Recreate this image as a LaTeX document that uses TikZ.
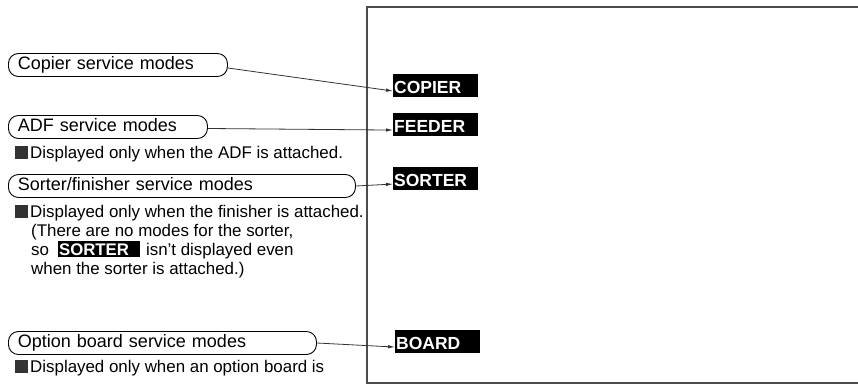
\documentclass[tikz,border=0pt]{standalone}
\usepackage{fontspec}
\setmainfont{Liberation Sans}
\usepackage{tikz}
\usetikzlibrary{arrows.meta}
\usepackage{xcolor}
\newcommand{\notemark}{\textcolor{black!80}{\rule[-0.5pt]{12.5pt}{12.5pt}}\hspace{2.5pt}}
\newcommand{\inlinekey}[1]{{\setlength{\fboxsep}{0pt}\colorbox{black}{\makebox[82pt][l]{\rule[-2pt]{0pt}{16pt}\hspace{1pt}\textcolor{white}{\fontsize{16.8}{19}\selectfont\bfseries #1}}}}}
\tikzset{
  modepill/.style = {draw=black, line width=0.9pt, rounded corners=10pt, anchor=west,
    font=\fontsize{18}{21}\selectfont, align=left, inner xsep=9.5pt, inner ysep=3.5pt,
    text height=12.5pt, text depth=3.5pt},
  modekey/.style = {fill=black, text=white, font=\fontsize{17.5}{20}\selectfont\bfseries,
    anchor=north west, align=left, text width=83pt, inner xsep=1pt, inner ysep=0pt,
    text height=19.5pt, text depth=3.5pt},
  notetext/.style = {anchor=base west, inner sep=0pt, font=\fontsize{16.9}{19}\selectfont},
  screen/.style = {draw=black!70, line width=1.4pt},
  modearrow/.style = {draw=black!80, line width=0.8pt, -{Latex[length=7pt,width=3.5pt]}}
}
\begin{document}
\begin{tikzpicture}[x=1pt, y=-1pt]
\useasboundingbox (0,0) rectangle (858,385);

% screen frame (open to the right)
\draw[screen] (858,7) -| (367,383) -- (858,383);

% mode keys on the screen
\node[modekey] (copierkey) at (393,74)  {COPIER};
\node[modekey] (feederkey) at (393,113) {FEEDER};
\node[modekey] (sorterkey) at (393,167) {SORTER};
\node[modekey] (boardkey)  at (395,330) {BOARD};

% service mode groups
\node[modepill, text width=200pt] (copiermodes) at (8,65)    {Copier service modes};
\node[modepill, text width=180pt] (adfmodes)    at (8,127)   {ADF service modes};
\node[modepill, text width=328pt] (sortermodes) at (8,186)   {Sorter/finisher service modes};
\node[modepill, text width=289pt] (boardmodes)  at (8,343)   {Option board service modes};

% notes
\node[notetext] (adfnote) at (15,158) {\notemark Displayed only when the ADF is attached.};
\node[notetext] (finnote) at (15,217) {\notemark Displayed only when the finisher is attached.};
\node[notetext] (finnote2) at (31,236) {(There are no modes for the sorter,};
\node[notetext] (finnote3) at (31,255) {so\hspace{9pt}\inlinekey{SORTER}\hspace{6pt}isn't displayed even};
\node[notetext] (finnote4) at (31,274) {when the sorter is attached.)};
\node[notetext] (boardnote) at (15,372) {\notemark Displayed only when an option board is};

\draw[modearrow] ([yshift=-3pt]copiermodes.east) -- (copierkey.mid west);
\draw[modearrow] ([yshift=-1.5pt]adfmodes.east) -- (feederkey.mid west);
\draw[modearrow] (sortermodes.east) -- (sorterkey.mid west);
\draw[modearrow] (boardmodes.east) -- (boardkey.mid west);

\end{tikzpicture}
\end{document}
